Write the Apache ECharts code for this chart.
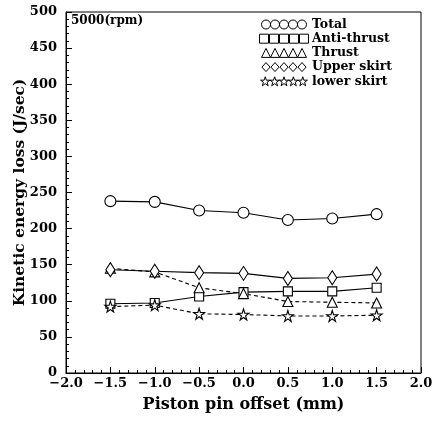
<!DOCTYPE html>
<html>
<head>
<meta charset="utf-8">
<script src="https://cdn.jsdelivr.net/npm/echarts@6/dist/echarts.min.js"></script>
<style>
html,body{margin:0;padding:0;background:#fff;}
#chart{width:432px;height:421px;}
</style>
</head>
<body>
<div id="chart"></div>
<script>
// Piston pin offset (mm)
const offsets = [-1.5, -1.0, -0.5, 0.0, 0.5, 1.0, 1.5];
// Kinetic energy loss (J/sec) per part
const total      = [238, 237, 225, 222, 212, 214, 220];
const antiThrust = [96, 97, 106, 112, 113, 113, 118];
const thrust     = [145, 140, 118, 110, 99, 98, 97];
const upperSkirt = [143, 141, 139, 138, 131, 132, 137];
const lowerSkirt = [92, 94, 82, 81, 79, 79, 80];
const seriesNames = ['Total', 'Anti-thrust', 'Thrust', 'Upper skirt', 'lower skirt'];

const FONT = '"DejaVu Serif", "Liberation Serif", serif';
const STAR = 'path://M50,0L61,35L98,35L68,57L79,91L50,70L21,91L32,57L2,35L39,35Z';

// legend icons: a row of five outlined symbols
function rowPath(one, step, n) {
  let d = '';
  for (let i = 0; i < n; i++) d += one(i * step) + ' ';
  return 'path://' + d.trim();
}
const iconCircle = rowPath(x => `M${x},5a5,5 0 1,0 10,0a5,5 0 1,0 -10,0Z`, 10, 5);
const iconRect = rowPath(x => `M${x},0.5h9v9h-9Z`, 10, 5);
const iconTri = rowPath(x => `M${x},10L${x + 5},0L${x + 10},10Z`, 10, 5);
const iconDiamond = rowPath(x => `M${x + 5},0L${x + 9.5},5L${x + 5},10L${x + 0.5},5Z`, 10, 5);
const iconStar = rowPath(x => `M${x + 5},0L${x + 6.2},3.6L${x + 10},3.6L${x + 7},5.8L${x + 8.1},9.6L${x + 5},7.3L${x + 1.9},9.6L${x + 3},5.8L${x},3.6L${x + 3.8},3.6Z`, 10, 5);

function pairs(vals) { return offsets.map((x, i) => [x, vals[i]]); }

function mk(name, vals, symbol, size, dashed) {
  return {
    name: name,
    type: 'line',
    data: pairs(vals),
    symbol: symbol,
    symbolSize: size,
    showAllSymbol: true,
    lineStyle: { color: '#000', width: 1.1, type: dashed ? [4, 3] : 'solid' },
    itemStyle: { color: '#fff', borderColor: '#000', borderWidth: 1.1 },
    emphasis: { disabled: true },
    z: 3
  };
}

const chart = echarts.init(document.getElementById('chart'), null, { renderer: 'canvas' });
chart.setOption({
  backgroundColor: '#fff',
  animation: false,
  grid: {
    left: 66, right: 11, top: 12, bottom: 48,
    outerBoundsMode: 'none', containLabel: false,
    show: true, borderColor: '#000', borderWidth: 1
  },
  legend: {
    orient: 'vertical',
    left: 259,
    top: 18,
    padding: 0,
    itemWidth: 50,
    itemHeight: 9,
    itemGap: 1.2,
    selectedMode: false,
    textStyle: { fontFamily: FONT, fontSize: 12.5, lineHeight: 13, fontWeight: 'bold', color: '#000', padding: [0, 0, 0, -2] },
    itemStyle: { color: '#fff', borderColor: '#000', borderWidth: 1 },
    data: [
      { name: seriesNames[0], icon: iconCircle },
      { name: seriesNames[1], icon: iconRect },
      { name: seriesNames[2], icon: iconTri },
      { name: seriesNames[3], icon: iconDiamond },
      { name: seriesNames[4], icon: iconStar }
    ]
  },
  xAxis: {
    type: 'value',
    min: -2, max: 2, interval: 0.5,
    name: 'Piston pin offset (mm)',
    nameLocation: 'middle',
    nameGap: 24,
    nameTextStyle: { fontFamily: FONT, fontSize: 16, fontWeight: 'bold', color: '#000' },
    axisLine: { onZero: false, lineStyle: { color: '#000', width: 1 } },
    axisTick: { inside: true, length: 6, lineStyle: { color: '#000' } },
    minorTick: { show: true, splitNumber: 5, length: 3, lineStyle: { color: '#000' } },
    splitLine: { show: false },
    axisLabel: {
      fontFamily: FONT, fontSize: 13, fontWeight: 'bold', color: '#000', margin: 4,
      formatter: v => v.toFixed(1).replace('-', '\u2212')
    }
  },
  yAxis: {
    type: 'value',
    min: 0, max: 500, interval: 50,
    name: 'Kinetic energy loss (J/sec)',
    nameLocation: 'middle',
    nameGap: 38,
    nameMoveOverlap: false,
    nameTextStyle: { fontFamily: FONT, fontSize: 15.5, fontWeight: 'bold', color: '#000' },
    axisLine: { show: true, onZero: false, lineStyle: { color: '#000', width: 1 } },
    axisTick: { inside: true, length: 6, lineStyle: { color: '#000' } },
    minorTick: { show: true, splitNumber: 5, length: 3, lineStyle: { color: '#000' } },
    splitLine: { show: false },
    axisLabel: { fontFamily: FONT, fontSize: 13, fontWeight: 'bold', color: '#000', margin: 9 }
  },
  graphic: [{
    type: 'text',
    left: 71, top: 15,
    style: { text: '5000(rpm)', font: 'bold 12px ' + FONT, fill: '#000' }
  }],
  series: [
    mk(seriesNames[0], total, 'circle', 11, false),
    mk(seriesNames[1], antiThrust, 'rect', 9, false),
    mk(seriesNames[2], thrust, 'triangle', 10, true),
    mk(seriesNames[3], upperSkirt, 'diamond', [9, 14], false),
    mk(seriesNames[4], lowerSkirt, STAR, 11, true)
  ]
});
</script>
</body>
</html>
